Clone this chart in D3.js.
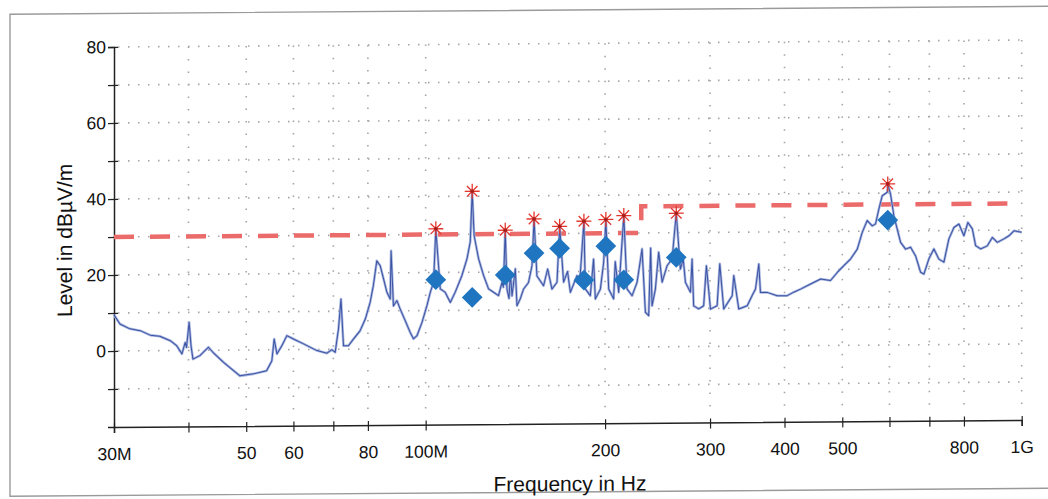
<!DOCTYPE html>
<html>
<head>
<meta charset="utf-8">
<script src="https://cdn.jsdelivr.net/npm/d3@7"></script>
<style>
  body { margin: 0; background: #fff; }
  svg { display: block; font-family: "Liberation Sans", Arial, sans-serif; }
</style>
</head>
<body>
<svg id="chart" width="1048" height="499"></svg>
<script>
// measured spectrum (MHz, dBuV/m)
var traceFreq = [30.0, 30.7, 31.9, 33.2, 34.5, 35.8, 37.3, 38.2, 39.0, 39.5, 39.7, 40.1, 40.4, 40.7, 41.8,
    43.2, 44.0, 45.8, 47.6, 48.8, 51.4, 54.1, 55.2, 55.7, 56.3, 57.4, 58.5, 60.0, 62.4, 65.7,
    68.3, 69.6, 70.5, 71.4, 72.1, 72.8, 74.2, 75.7, 77.6, 79.2, 80.7, 81.7, 82.8, 83.9, 85.0,
    86.1, 87.2, 87.5, 88.3, 89.5, 90.6, 92.4, 94.2, 95.4, 96.7, 98.6, 100.5, 101.8, 103.1, 104.0,
    105.8, 107.8, 110.0, 112.1, 115.0, 117.3, 118.8, 119.7, 120.6, 122.7, 125.1, 127.5, 130.0, 132.5, 134.3,
    135.0, 136.0, 136.9, 138.0, 138.7, 139.6, 141.4, 142.3, 144.1, 146.0, 148.8, 150.8, 152.0, 153.7, 157.7,
    160.2, 162.9, 166.1, 167.8, 170.4, 173.0, 174.9, 179.4, 181.5, 184.3, 185.3, 188.9, 191.3, 192.6, 196.4,
    198.9, 200.6, 202.8, 206.7, 208.0, 210.8, 215.0, 217.7, 222.0, 226.3, 230.7, 233.7, 236.7, 238.5, 239.8,
    242.9, 246.0, 249.3, 254.1, 259.1, 263.3, 267.5, 270.5, 272.8, 278.1, 279.9, 281.6, 287.1, 292.7, 295.8,
    300.5, 308.3, 311.5, 316.3, 326.8, 328.8, 335.2, 346.3, 353.0, 357.6, 362.2, 364.5, 374.1, 388.8, 404.1,
    414.6, 425.5, 442.3, 459.7, 477.8, 490.4, 503.0, 516.2, 529.8, 540.1, 550.6, 561.4, 568.6, 575.9, 583.5,
    594.9, 596.0, 602.5, 610.3, 618.3, 626.3, 638.5, 650.9, 663.7, 676.6, 685.3, 698.7, 712.3, 726.2, 740.4,
    754.8, 769.6, 784.6, 799.9, 812.4, 826.3, 836.9, 853.2, 875.6, 892.7, 910.1, 933.6, 951.9, 970.4, 1000];
var traceLevel = [9.5, 7.1, 5.8, 5.3, 4.1, 3.8, 2.6, 1.3, -0.9, 2.1, 0.8, 7.4, 1.2, -2.3, -1.4,
    0.8, -0.6, -3.2, -5.4, -6.8, -6.3, -5.5, -2.9, 2.8, -1.1, 1.1, 3.7, 2.8, 1.5, -0.3,
    -1.0, -0.1, -0.8, 5.3, 13.2, 0.9, 0.9, 2.7, 4.8, 7.9, 12.3, 16.7, 23.2, 21.9, 18.4,
    14.9, 13.1, 25.8, 11.3, 12.7, 10.5, 7.4, 4.3, 2.6, 3.4, 6.9, 11.3, 14.8, 17.4, 31.5,
    15.7, 14.8, 12.1, 14.8, 19.1, 23.5, 28.0, 41.3, 29.6, 23.5, 19.1, 15.6, 14.7, 13.8, 17.3,
    16.0, 31.0, 15.5, 13.0, 19.8, 13.7, 20.8, 11.1, 12.9, 15.5, 17.2, 21.6, 33.9, 18.9, 16.3,
    20.7, 15.4, 17.2, 31.9, 17.2, 20.0, 14.5, 18.9, 18.0, 33.2, 15.4, 13.6, 23.2, 12.7, 15.3,
    22.3, 33.6, 15.3, 12.7, 22.5, 14.4, 34.6, 15.3, 13.5, 17.0, 25.8, 9.1, 8.2, 26.0, 10.8,
    15.2, 24.9, 17.0, 21.3, 23.1, 35.1, 20.4, 23.0, 16.9, 14.3, 23.0, 10.7, 9.9, 10.7, 21.2,
    9.8, 10.7, 21.7, 9.8, 13.3, 18.6, 9.8, 10.6, 13.3, 15.0, 21.6, 14.1, 14.1, 13.2, 13.2,
    14.1, 14.9, 16.2, 17.5, 17.1, 19.2, 21.0, 22.7, 25.3, 29.7, 32.8, 31.4, 31.9, 35.8, 39.3,
    40.2, 42.4, 39.7, 34.0, 30.5, 27.0, 25.2, 25.7, 23.4, 19.1, 18.6, 22.6, 25.2, 22.5, 21.7,
    27.8, 30.8, 31.7, 28.6, 32.1, 30.4, 26.0, 25.1, 25.9, 28.1, 26.8, 27.7, 28.5, 29.8, 29.4];

// peak and quasi-peak results
var peakFreq = [104.0, 119.7, 136.0, 152.0, 167.8, 184.3, 200.6, 215.0, 263.3, 596.0];
var peakLevel = [31.5, 41.3, 31.0, 33.9, 31.9, 33.2, 33.6, 34.6, 35.1, 42.4];
var qpLevel = [18.1, 13.4, 19.2, 24.9, 26.1, 17.7, 26.6, 17.7, 23.5, 32.9];

// limit line
var limitFreq = [30, 230, 230, 1000];
var limitLevel = [30, 30, 37, 37];

var xTicks = [30, 40, 50, 60, 70, 80, 100, 200, 300, 400, 500, 600, 700, 800, 1000];
var xTickLabels = ["30M", "", "50", "60", "", "80", "100M", "200", "300", "400", "500", "", "", "800", "1G"];
var yTicks = [-10, 0, 10, 20, 30, 40, 50, 60, 70, 80];
var yTickLabels = ["", "0", "", "20", "", "40", "", "60", "", "80"];

var plotLeft = 114, plotRight = 1021.7, plotTop = 47, plotBottom = 427;

var x = d3.scaleLog().domain([30, 1000]).range([plotLeft, plotRight]);
var y = d3.scaleLinear().domain([-20, 80]).range([plotBottom, plotTop]);

var svg = d3.select("#chart");

// the scanned chart is slightly tilted
var g = svg.append("g")
    .attr("transform", "translate(0," + (0.00772 * plotLeft) + ") skewY(-0.4423)");

g.append("rect")
    .attr("x", 10).attr("y", 13.5)
    .attr("width", 1100).attr("height", 482)
    .attr("fill", "none")
    .attr("stroke", "#9a9a9a")
    .attr("stroke-width", 1.4);

// dotted grid
g.append("g").selectAll("line")
    .data(yTicks)
    .enter().append("line")
    .attr("x1", plotLeft + 4).attr("x2", plotRight)
    .attr("y1", function(d) { return y(d); })
    .attr("y2", function(d) { return y(d); })
    .attr("stroke", "#a5a5a5")
    .attr("stroke-width", 1.6)
    .attr("stroke-dasharray", "1.5,8.5");

g.append("g").selectAll("line")
    .data(xTicks.slice(1))
    .enter().append("line")
    .attr("x1", function(d) { return x(d); })
    .attr("x2", function(d) { return x(d); })
    .attr("y1", plotTop).attr("y2", plotBottom - 6)
    .attr("stroke", "#a5a5a5")
    .attr("stroke-width", 1.6)
    .attr("stroke-dasharray", "1.5,11");

// axes
var yAxis = g.append("g")
    .attr("transform", "translate(" + plotLeft + ",0)")
    .call(d3.axisLeft(y)
        .tickValues(yTicks)
        .tickFormat(function(d, i) { return yTickLabels[i]; })
        .tickSizeOuter(0)
        .tickSize(6)
        .tickPadding(2));

var xAxis = g.append("g")
    .attr("transform", "translate(0," + plotBottom + ")")
    .call(d3.axisBottom(x)
        .tickValues(xTicks)
        .tickFormat(function(d, i) { return xTickLabels[i]; })
        .tickSizeOuter(0)
        .tickSize(6)
        .tickPadding(14.6));

yAxis.selectAll(".tick line").attr("x1", 4).attr("x2", -6);
xAxis.selectAll(".tick line").attr("y1", -4).attr("y2", 6);

[xAxis, yAxis].forEach(function(a) {
    a.select(".domain").attr("stroke", "#222").attr("stroke-width", 1.5);
    a.selectAll(".tick line").attr("stroke", "#222").attr("stroke-width", 1.2);
    a.selectAll(".tick text")
        .attr("fill", "#111")
        .style("font-size", "17.5px")
        .style("font-family", "'Liberation Sans', Arial, sans-serif");
});

g.append("text")
    .attr("x", 570).attr("y", 494.5)
    .attr("text-anchor", "middle")
    .attr("fill", "#111")
    .style("font-size", "21px")
    .text("Frequency in Hz");

g.append("text")
    .attr("transform", "translate(72,240) rotate(-90)")
    .attr("text-anchor", "middle")
    .attr("fill", "#111")
    .style("font-size", "21px")
    .text("Level in dBµV/m");

// limit
var limitLine = d3.line()
    .x(function(d, i) { return x(limitFreq[i]); })
    .y(function(d, i) { return y(limitLevel[i]); });

g.append("path")
    .attr("d", limitLine(limitFreq))
    .attr("fill", "none")
    .attr("stroke", "#eb6a6a")
    .attr("stroke-width", 4.5)
    .attr("stroke-dasharray", "20,16");

// spectrum, soft halo under a thin core to look like the scanned trace
var traceLine = d3.line()
    .x(function(d, i) { return x(traceFreq[i]); })
    .y(function(d, i) { return y(traceLevel[i]); });

g.append("path")
    .attr("d", traceLine(traceFreq))
    .attr("fill", "none")
    .attr("stroke", "#a9b6df")
    .attr("stroke-width", 2.6)
    .attr("stroke-linejoin", "round");

g.append("path")
    .attr("d", traceLine(traceFreq))
    .attr("fill", "none")
    .attr("stroke", "#3b53a3")
    .attr("stroke-width", 1)
    .attr("stroke-linejoin", "round");

// quasi-peak diamonds
g.append("g").selectAll("path")
    .data(qpLevel)
    .enter().append("path")
    .attr("d", d3.symbol().type(d3.symbolSquare).size(215))
    .attr("transform", function(d, i) {
        return "translate(" + x(peakFreq[i]) + "," + y(d) + ") rotate(45)";
    })
    .attr("fill", "#1f75c0");

// peak asterisks
var starR = 7.5;
var starPath = d3.range(4).map(function(k) {
    var a = k * Math.PI / 4;
    return "M" + (-starR * Math.cos(a)) + "," + (-starR * Math.sin(a)) +
        "L" + (starR * Math.cos(a)) + "," + (starR * Math.sin(a));
}).join("");

var stars = g.append("g").selectAll("g")
    .data(peakLevel)
    .enter().append("g")
    .attr("transform", function(d, i) { return "translate(" + x(peakFreq[i]) + "," + y(d) + ")"; });

stars.append("path")
    .attr("d", starPath)
    .attr("stroke", "#e3352d")
    .attr("stroke-width", 1.3);

stars.append("circle")
    .attr("r", 1.8)
    .attr("fill", "#a3201b");
</script>
</body>
</html>
